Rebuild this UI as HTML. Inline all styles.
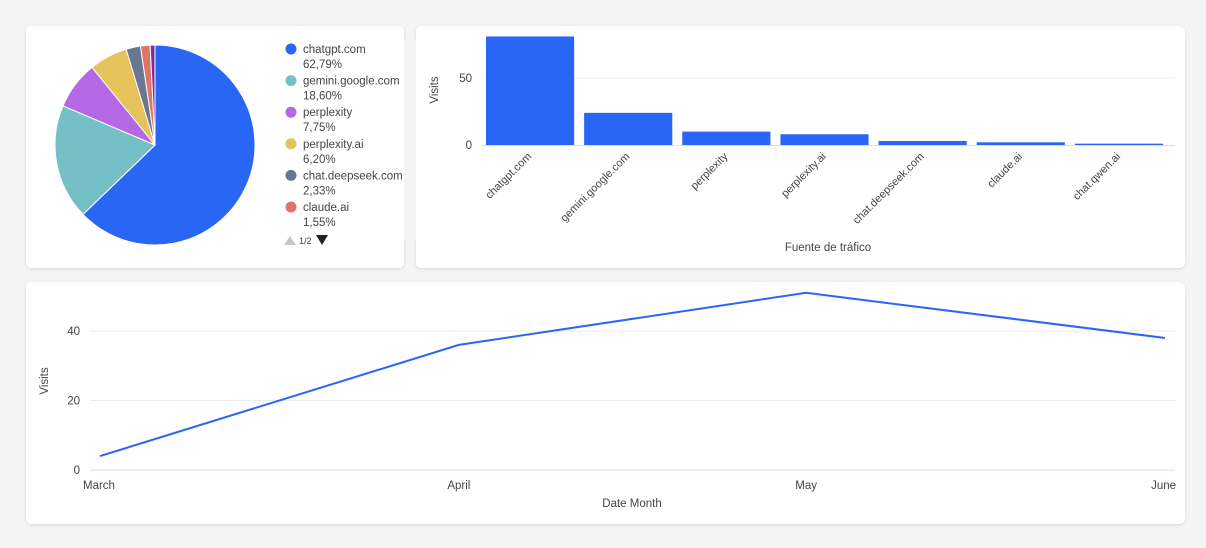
<!DOCTYPE html>
<html><head><meta charset="utf-8"><style>
body{margin:0;width:1206px;height:548px;background:#f4f4f4;font-family:"Liberation Sans",sans-serif;overflow:hidden;position:relative}
.card{position:absolute;background:#fff;border-radius:5px;box-shadow:0 1px 3px rgba(0,0,0,.12)}
svg{position:absolute;left:0;top:0}
text{font-family:"Liberation Sans",sans-serif;fill:#444}
</style></head><body>
<div class="card" style="left:26px;top:26px;width:378px;height:242px"></div>
<div class="card" style="left:416px;top:26px;width:769px;height:242px"></div>
<div class="card" style="left:26px;top:282px;width:1159px;height:242px"></div>
<svg id="s" width="1206" height="548"></svg>
<script>
const sources=["chatgpt.com","gemini.google.com","perplexity","perplexity.ai","chat.deepseek.com","claude.ai","chat.qwen.ai"];
const visits=[81,24,10,8,3,2,1];
const pieColors=["#2a66f5","#74c0c6","#b468e6","#e5c35a","#6b7690","#e0736a","#7a2fa0"];
const barTicks=[0,50];
const months=["March","April","May","June"];
const monthDays=[0,31,61,92];
const monthVisits=[4,36,51,38];
const lineTicks=[0,20,40];

const S=document.getElementById('s');const NS='http://www.w3.org/2000/svg';
function el(t,a,txt){const e=document.createElementNS(NS,t);for(const k in a)e.setAttribute(k,a[k]);if(txt!=null)e.textContent=txt;S.appendChild(e);return e;}

// Pie
const total=visits.reduce((a,b)=>a+b,0);
const cx=155,cy=145,r=100;let ang=0;
visits.forEach((v,i)=>{
  const a0=ang,a1=ang+v/total*2*Math.PI;ang=a1;
  const x0=cx+r*Math.sin(a0),y0=cy-r*Math.cos(a0),x1=cx+r*Math.sin(a1),y1=cy-r*Math.cos(a1);
  const p=el('path',{d:`M${cx},${cy}L${x0},${y0}A${r},${r} 0 ${a1-a0>Math.PI?1:0} 1 ${x1},${y1}Z`,fill:pieColors[i],stroke:'#fff','stroke-width':1});
  
  
});
for(let i=0;i<6;i++){
  const y=49+i*31.6;
  const c=el('circle',{cx:291,cy:y,r:5.5,fill:pieColors[i]});
  
  
  const t=el('text',{x:303,y:y+4,'font-size':11.5,fill:'#333'},sources[i]);
  
  
  const pct=el('text',{x:303,y:y+19,'font-size':11.5,fill:'#333'},(visits[i]/total*100).toFixed(2).replace('.',',')+'%');
  
  
}
// clip legend overflow
const cov=el('rect',{x:404,y:40,width:12,height:200,fill:'#f4f4f4'});

const cov2=el('rect',{x:280,y:228,width:120,height:10,fill:'#fff'});

const up=el('path',{d:'M284,245L290,236L296,245Z',fill:'#c8c8c8'});

el('text',{x:299,y:244,'font-size':9,fill:'#555'},'1/2');
const dn=el('path',{d:'M316,235L328,235L322,245Z',fill:'#222'});


// Bar chart
const bx0=485,bx1=1172,by0=145,bscale=67/50;
const by=v=>by0-v*bscale;const bw=(bx1-bx0)/sources.length;
barTicks.forEach(t=>{
  if(t>0){const g=el('line',{x1:482,x2:1175,y1:by(t),y2:by(t),stroke:'#ececec'});}
  const l=el('text',{x:472,y:by(t)+4,'font-size':11.5,'text-anchor':'end'},t);
  
});
visits.forEach((v,i)=>{
  const x=bx0+i*bw;
  const b=el('rect',{x:x+1,y:by(v),width:bw-10,height:v*bscale,fill:'#2a66f5'});
  
  const cxl=x+bw/2-2;
  const t=el('text',{x:cxl,y:157,'font-size':11,'text-anchor':'end',transform:`rotate(-45 ${cxl} 157)`},sources[i]);
  
});
const ax=el('line',{x1:482,x2:1175,y1:by0+0.5,y2:by0+0.5,stroke:'#d6dcf5'});
el('text',{x:438,y:90,'font-size':11.5,'text-anchor':'middle',transform:'rotate(-90 438 90)'},'Visits');
el('text',{x:828,y:251,'font-size':11.5,'text-anchor':'middle',fill:'#333'},'Fuente de tráfico');

// Line chart
const lx0=100,lx1=1165,ly0=470,lscale=139/40;
const lx=d=>lx0+d/monthDays[monthDays.length-1]*(lx1-lx0);const ly=v=>ly0-v*lscale;
lineTicks.forEach(t=>{
  const g=el('line',{x1:90,x2:1175,y1:ly(t),y2:ly(t),stroke:t?'#ececec':'#d6dcf5'});
  
  const l=el('text',{x:80,y:ly(t)+4,'font-size':11.5,'text-anchor':'end'},t);
  
});
months.forEach((m,i)=>{
  const anchor=i==0?'start':i==months.length-1?'end':'middle';
  const x=i==0?83:i==months.length-1?1176:lx(monthDays[i]);
  const t=el('text',{x:x,y:489,'font-size':11.5,'text-anchor':anchor,fill:'#333'},m);
  
});
const pl=el('polyline',{points:monthVisits.map((v,i)=>lx(monthDays[i])+','+ly(v)).join(' '),fill:'none',stroke:'#2a66f5','stroke-width':2});

el('text',{x:48,y:381,'font-size':11.5,'text-anchor':'middle',transform:'rotate(-90 48 381)'},'Visits');
el('text',{x:632,y:507,'font-size':11.5,'text-anchor':'middle',fill:'#333'},'Date Month');
</script>
</body></html>
